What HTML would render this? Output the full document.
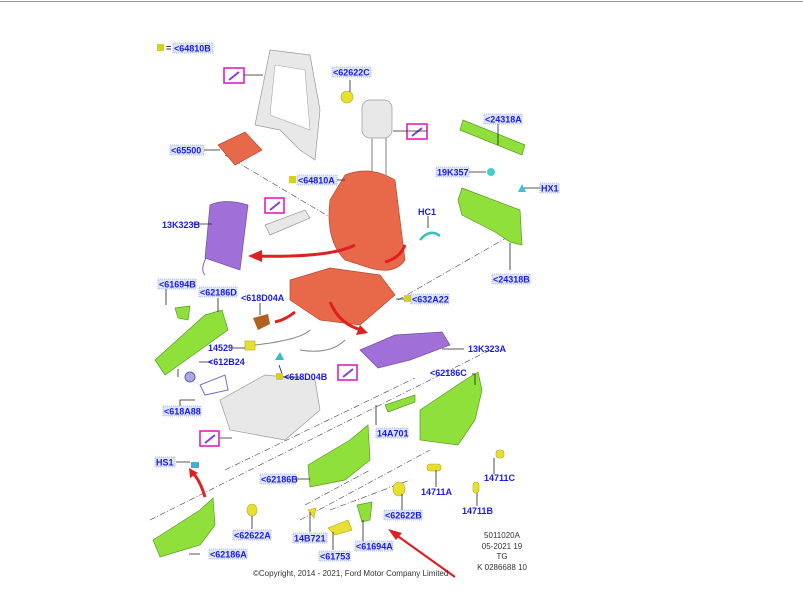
<!DOCTYPE html>
<html><head><meta charset="utf-8"><style>
html,body{margin:0;padding:0;background:#fff}
svg{display:block}
.l{font-family:"Liberation Sans",sans-serif;font-size:9px;fill:#1a1ae6;font-weight:bold}
.b{fill:#dce6f8;stroke:#7a8fd0;stroke-width:.6;stroke-dasharray:1 1}
.k{font-family:"Liberation Sans",sans-serif;font-size:8px;fill:#333}
.ln{stroke:#222;stroke-width:.8;fill:none}
.dd{stroke:#444;stroke-width:.6;fill:none;stroke-dasharray:6 2 1 2}
.g{fill:#8fe03a;stroke:#5a9a20;stroke-width:.7}
.r{fill:#e8694a;stroke:#b84a30;stroke-width:.7}
.p{fill:#a070d8;stroke:#7050a8;stroke-width:.7}
.y{fill:#e8e030;stroke:#b0a820;stroke-width:.6}
.gr{fill:#e8e8e8;stroke:#999;stroke-width:.7}
.m{fill:#fff;stroke:#e020c0;stroke-width:1.6}
.arr{stroke:#e02020;stroke-width:3;fill:none}
</style></head><body>
<svg width="803" height="591" viewBox="0 0 803 591">
<line x1="0" y1="1.5" x2="803" y2="1.5" stroke="#999" stroke-width="1"/>
<!-- dash-dot lines -->
<path class="dd" d="M225 155 L360 235 M330 225 L360 235 M398 300 L520 230 M150 520 L490 350 M225 470 L415 378 M300 520 L430 450 M305 505 L370 470 M330 510 L410 480"/>
<!-- back frame -->
<path class="gr" d="M270 50 L310 55 L320 110 L315 160 L300 150 L280 130 L255 125 Z"/>
<path d="M275 65 L305 70 L310 130 L270 115 Z" fill="#fff" stroke="#aaa" stroke-width=".6"/>
<!-- 65500 -->
<path class="r" d="M218 145 L245 132 L262 150 L235 165 Z"/>
<!-- 62622C -->
<circle class="y" cx="347" cy="97" r="6"/>
<!-- headrest -->
<rect class="gr" x="362" y="100" width="30" height="38" rx="8"/>
<path d="M372 138 V175 M386 138 V175" stroke="#aaa" stroke-width="1.5"/>
<!-- seat back -->
<path class="r" d="M345 175 Q370 165 395 180 L405 260 Q395 275 370 268 L345 260 Q325 240 330 200 Z"/>
<!-- seat cushion -->
<path class="r" d="M290 280 L330 268 L380 275 L395 295 L360 325 L320 320 L290 300 Z"/>
<!-- armrest -->
<path class="gr" d="M265 225 L305 210 L310 218 L270 235 Z"/>
<!-- 13K323B -->
<path class="p" d="M210 205 Q225 198 248 205 L240 270 L205 258 Z"/>
<path d="M206 258 Q200 270 205 275" stroke="#8060b0" fill="none"/>
<!-- 24318A -->
<path class="g" d="M463 120 L525 145 L522 155 L460 130 Z"/>
<circle cx="491" cy="172" r="4" fill="#40d0d0"/>
<path d="M522 184 l4 8 -8 0z" fill="#40c0d0"/>
<!-- 24318B -->
<path class="g" d="M462 188 L520 210 L522 245 L510 242 L495 232 L462 215 L458 200 Z"/>
<path d="M420 240 Q430 228 440 236" stroke="#30c0c0" stroke-width="2.5" fill="none"/>
<!-- red arrows -->
<path class="arr" d="M355 245 Q330 258 255 256"/><path d="M248 256 L262 250 L262 262 Z" fill="#e02020"/>
<path class="arr" d="M385 262 Q400 258 405 245"/>
<path class="arr" d="M295 312 Q285 320 275 322"/>
<path class="arr" d="M330 302 Q340 325 362 330"/><path d="M368 333 L356 335 L360 325 Z" fill="#e02020"/>
<path class="arr" d="M205 497 Q200 480 192 472"/><path d="M189 468 L198 473 L190 478 Z" fill="#e02020"/>
<path d="M455 577 L392 532" stroke="#e02020" stroke-width="2.2"/><path d="M388 529 L402 533 L396 540 Z" fill="#e02020"/>
<!-- 618D04A -->
<path d="M253 318 L268 314 L270 324 L258 330 Z" fill="#b06020"/>
<!-- 13K323A -->
<path class="p" d="M360 350 L395 335 L442 332 L450 345 L410 360 L378 368 Z"/>
<!-- 61694B,62186D -->
<path class="g" d="M175 308 L190 306 L188 320 L178 318 Z"/>
<path class="g" d="M155 360 L205 315 L222 310 L228 330 L200 350 L165 375 Z"/>
<!-- 612B24, 618A88 -->
<circle cx="190" cy="377" r="5" fill="#a8a8e8" stroke="#6060a0"/>
<path d="M200 385 L225 375 L228 390 L205 395 Z" fill="none" stroke="#7070c0"/>
<!-- wires -->
<path d="M255 345 Q300 340 310 330 M300 350 Q330 355 345 340" stroke="#888" fill="none"/>
<rect class="y" x="245" y="341" width="10" height="9"/>
<path d="M275 360 l5 -8 4 8z" fill="#30c0c0"/>
<!-- seat frame -->
<path class="gr" d="M220 400 L265 375 L315 380 L320 410 L285 440 L230 430 Z"/>
<!-- 62186C -->
<path class="g" d="M420 410 L465 380 L478 372 L482 390 L475 420 L458 445 L420 440 Z"/>
<path class="g" d="M385 405 L415 395 L415 402 L388 412 Z"/>
<!-- 62186B -->
<path class="g" d="M308 465 L350 440 L368 425 L370 460 L345 480 L310 487 Z"/>
<!-- 62186A -->
<path class="g" d="M153 540 L200 510 L213 498 L215 525 L200 545 L160 557 Z"/>
<path d="M191 462 l8 0 0 6 -8 0z" fill="#40b0d0"/>
<!-- small yellow parts -->
<ellipse class="y" cx="399" cy="489" rx="6" ry="7"/>
<ellipse class="y" cx="252" cy="510" rx="5" ry="6"/>
<rect class="y" x="427" y="464" width="14" height="7" rx="3"/>
<rect class="y" x="496" y="450" width="8" height="8" rx="3"/>
<rect class="y" x="473" y="482" width="6" height="11" rx="3"/>
<path class="y" d="M308 510 l8 -2 -2 10z"/>
<path class="y" d="M328 528 L348 520 L352 530 L335 535 Z"/>
<path class="g" d="M357 505 L372 502 L370 520 L362 522 Z"/>
<!-- magenta boxes -->
<g><rect class="m" x="224" y="68" width="20" height="15"/><path d="M229 80 L239 72" stroke="#8040e0" stroke-width="2"/></g>
<g><rect class="m" x="407" y="124" width="20" height="15"/><path d="M412 136 L422 128" stroke="#8040e0" stroke-width="2"/></g>
<g><rect class="m" x="265" y="198" width="19" height="15"/><path d="M270 210 L280 202" stroke="#8040e0" stroke-width="2"/></g>
<g><rect class="m" x="338" y="365" width="19" height="15"/><path d="M343 377 L353 369" stroke="#8040e0" stroke-width="2"/></g>
<g><rect class="m" x="200" y="431" width="19" height="15"/><path d="M205 443 L215 435" stroke="#8040e0" stroke-width="2"/></g>
<!-- leader lines -->
<path class="ln" d="M244 75 H263 M350 80 V92 M203 150 H220 M336 180 H345 M192 224 H212 M427 131 H393 M498 124 V145 M469 172 H486 M524 188 H540 M428 216 V228 M510 270 V243 M166 288 V305 M218 298 V312 M260 303 V315 M396 299 H408 M233 348 H245 M199 362 H212 M178 369 V377 M300 377 H283 L279 365 M442 349 H464 M472 374 H475 V385 M180 406 V400 H195 M376 425 V405 M220 438 H232 M176 462 H190 M296 479 H310 M494 474 V458 M436 487 V470 M477 506 V493 M402 510 V494 M252 529 V516 M310 532 V512 M363 541 V520 M189 554 H200 M333 550 V532"/>
<!-- yellow squares -->
<rect x="157" y="44" width="7" height="7" fill="#d8d020"/>
<rect x="289" y="176" width="7" height="7" fill="#d8d020"/>
<rect x="404" y="295" width="7" height="7" fill="#d8d020"/>
<rect x="276" y="373" width="7" height="7" fill="#d8d020"/>
<text class="l" x="166" y="51" style="fill:#333">=</text>
<!-- labels -->
<g>
<rect class="b" x="173" y="43" width="40" height="10"/><text class="l" x="174" y="51.5">&lt;64810B</text>
<rect class="b" x="332" y="67" width="39" height="10"/><text class="l" x="333" y="75.5">&lt;62622C</text>
<rect class="b" x="170" y="145" width="34" height="10"/><text class="l" x="171" y="153.5">&lt;65500</text>
<rect class="b" x="297" y="175" width="40" height="10"/><text class="l" x="298" y="183.5">&lt;64810A</text>
<text class="l" x="162" y="228">13K323B</text>
<rect class="b" x="484" y="114" width="38" height="10"/><text class="l" x="485" y="122.5">&lt;24318A</text>
<rect class="b" x="436" y="167" width="33" height="10"/><text class="l" x="437" y="175.5">19K357</text>
<rect class="b" x="540" y="183" width="19" height="10"/><text class="l" x="541" y="191.5">HX1</text>
<text class="l" x="418" y="215">HC1</text>
<rect class="b" x="492" y="274" width="38" height="10"/><text class="l" x="493" y="282.5">&lt;24318B</text>
<rect class="b" x="158" y="279" width="38" height="10"/><text class="l" x="159" y="287.5">&lt;61694B</text>
<rect class="b" x="199" y="287" width="38" height="10"/><text class="l" x="200" y="295.5">&lt;62186D</text>
<text class="l" x="241" y="301">&lt;618D04A</text>
<rect class="b" x="411" y="294" width="38" height="10"/><text class="l" x="412" y="302.5">&lt;632A22</text>
<text class="l" x="208" y="351">14529</text>
<text class="l" x="208" y="365">&lt;612B24</text>
<text class="l" x="284" y="380">&lt;618D04B</text>
<text class="l" x="468" y="352">13K323A</text>
<text class="l" x="430" y="376">&lt;62186C</text>
<rect class="b" x="163" y="406" width="38" height="10"/><text class="l" x="164" y="414.5">&lt;618A88</text>
<rect class="b" x="376" y="428" width="32" height="10"/><text class="l" x="377" y="436.5">14A701</text>
<rect class="b" x="155" y="457" width="20" height="10"/><text class="l" x="156" y="465.5">HS1</text>
<rect class="b" x="260" y="474" width="36" height="10"/><text class="l" x="261" y="482.5">&lt;62186B</text>
<text class="l" x="484" y="481">14711C</text>
<text class="l" x="421" y="495">14711A</text>
<text class="l" x="462" y="514">14711B</text>
<rect class="b" x="384" y="510" width="38" height="10"/><text class="l" x="385" y="518.5">&lt;62622B</text>
<rect class="b" x="233" y="530" width="38" height="10"/><text class="l" x="234" y="538.5">&lt;62622A</text>
<rect class="b" x="293" y="533" width="34" height="10"/><text class="l" x="294" y="541.5">14B721</text>
<rect class="b" x="355" y="541" width="38" height="10"/><text class="l" x="356" y="549.5">&lt;61694A</text>
<rect class="b" x="209" y="549" width="38" height="10"/><text class="l" x="210" y="557.5">&lt;62186A</text>
<rect class="b" x="319" y="551" width="31" height="10"/><text class="l" x="320" y="559.5">&lt;61753</text>
</g>
<text class="k" x="502" y="538" text-anchor="middle">5011020A</text>
<text class="k" x="502" y="549" text-anchor="middle">05-2021 19</text>
<text class="k" x="502" y="559" text-anchor="middle">TG</text>
<text class="k" x="502" y="570" text-anchor="middle">K 0286688 10</text>
<text class="k" x="253" y="576">©Copyright, 2014 - 2021, Ford Motor Company Limited</text>
</svg>
</body></html>
